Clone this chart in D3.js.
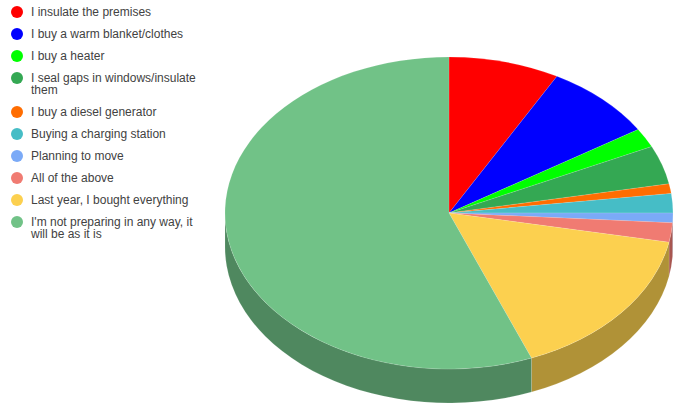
<!DOCTYPE html>
<html>
<head>
<meta charset="utf-8">
<script src="https://cdnjs.cloudflare.com/ajax/libs/d3/7.8.5/d3.min.js"></script>
<style>
  html, body { margin: 0; padding: 0; background: #fff; }
  svg { display: block; }
  .legend text { font-family: "Liberation Sans", Arial, sans-serif; font-size: 12px; fill: #424242; }
</style>
</head>
<body>
<div id="chart"></div>
<script>
// answers and their share in percent
var labels = [
  ["I insulate the premises"],
  ["I buy a warm blanket/clothes"],
  ["I buy a heater"],
  ["I seal gaps in windows/insulate", "them"],
  ["I buy a diesel generator"],
  ["Buying a charging station"],
  ["Planning to move"],
  ["All of the above"],
  ["Last year, I bought everything"],
  ["I'm not preparing in any way, it", "will be as it is"]
];
var values = [8, 8, 2, 4, 1, 2, 1, 2, 16, 56];
var colors = ["#ff0000", "#0000ff", "#00ff00", "#34a853", "#ff6d01",
  "#46bdc6", "#7baaf7", "#f07b72", "#fcd04f", "#71c287"];

var svgWidth = 683;
var svgHeight = 419;

// ellipse of the tilted pie
var cx = 449;
var cy = 213;
var rx = 224;
var ry = 156;
var depth = 34;

var svg = d3.select("#chart")
  .append("svg")
  .attr("width", svgWidth)
  .attr("height", svgHeight);

var slices = d3.pie().sort(null)(values);

// draw everything in circle space and squash it with the transform
var pieGroup = svg.append("g")
  .attr("transform", `translate(${cx}, ${cy}) scale(1, ${ry / rx})`);

var arc = d3.arc().innerRadius(0).outerRadius(rx);

// side wall, only the part of a slice on the front half is visible
function wallPath(d) {
  var start = Math.max(d.startAngle, Math.PI / 2) - Math.PI / 2;
  var end = Math.min(d.endAngle, Math.PI * 1.5) - Math.PI / 2;
  if (end <= start) return null;
  var wall = depth * rx / ry;
  var p = d3.path();
  p.arc(0, 0, rx, start, end);
  p.arc(0, wall, rx, end, start, true);
  p.closePath();
  return p.toString();
}

function darker(color) {
  var c = d3.rgb(color);
  return d3.rgb(c.r * 0.7, c.g * 0.7, c.b * 0.7);
}

pieGroup.selectAll(".wall")
  .data(slices)
  .enter()
  .append("path")
  .attr("class", "wall")
  .attr("d", wallPath)
  .attr("fill", d => darker(colors[d.index]))
  .attr("stroke", "#fff")
  .attr("stroke-opacity", 0.25)
  .attr("stroke-width", 0.5)
  .attr("vector-effect", "non-scaling-stroke");

pieGroup.selectAll(".slice")
  .data(slices)
  .enter()
  .append("path")
  .attr("class", "slice")
  .attr("d", arc)
  .attr("fill", d => colors[d.index])
  .attr("stroke", "#fff")
  .attr("stroke-opacity", 0.25)
  .attr("stroke-width", 0.5)
  .attr("vector-effect", "non-scaling-stroke");

// legend, two line entries push the following ones down
var lineHeight = 12;
var rowStep = 22;
var legendY = 12;
var legend = svg.append("g").attr("class", "legend");

labels.forEach(function(lines, i) {
  legend.append("circle")
    .attr("cx", 17)
    .attr("cy", legendY)
    .attr("r", 6)
    .attr("fill", colors[i]);

  var label = legend.append("text")
    .attr("x", 31)
    .attr("y", legendY + 4);

  lines.forEach(function(line, j) {
    label.append("tspan")
      .attr("x", 31)
      .attr("dy", j === 0 ? 0 : lineHeight)
      .text(line);
  });

  legendY += rowStep + (lines.length - 1) * lineHeight;
});
</script>
</body>
</html>
